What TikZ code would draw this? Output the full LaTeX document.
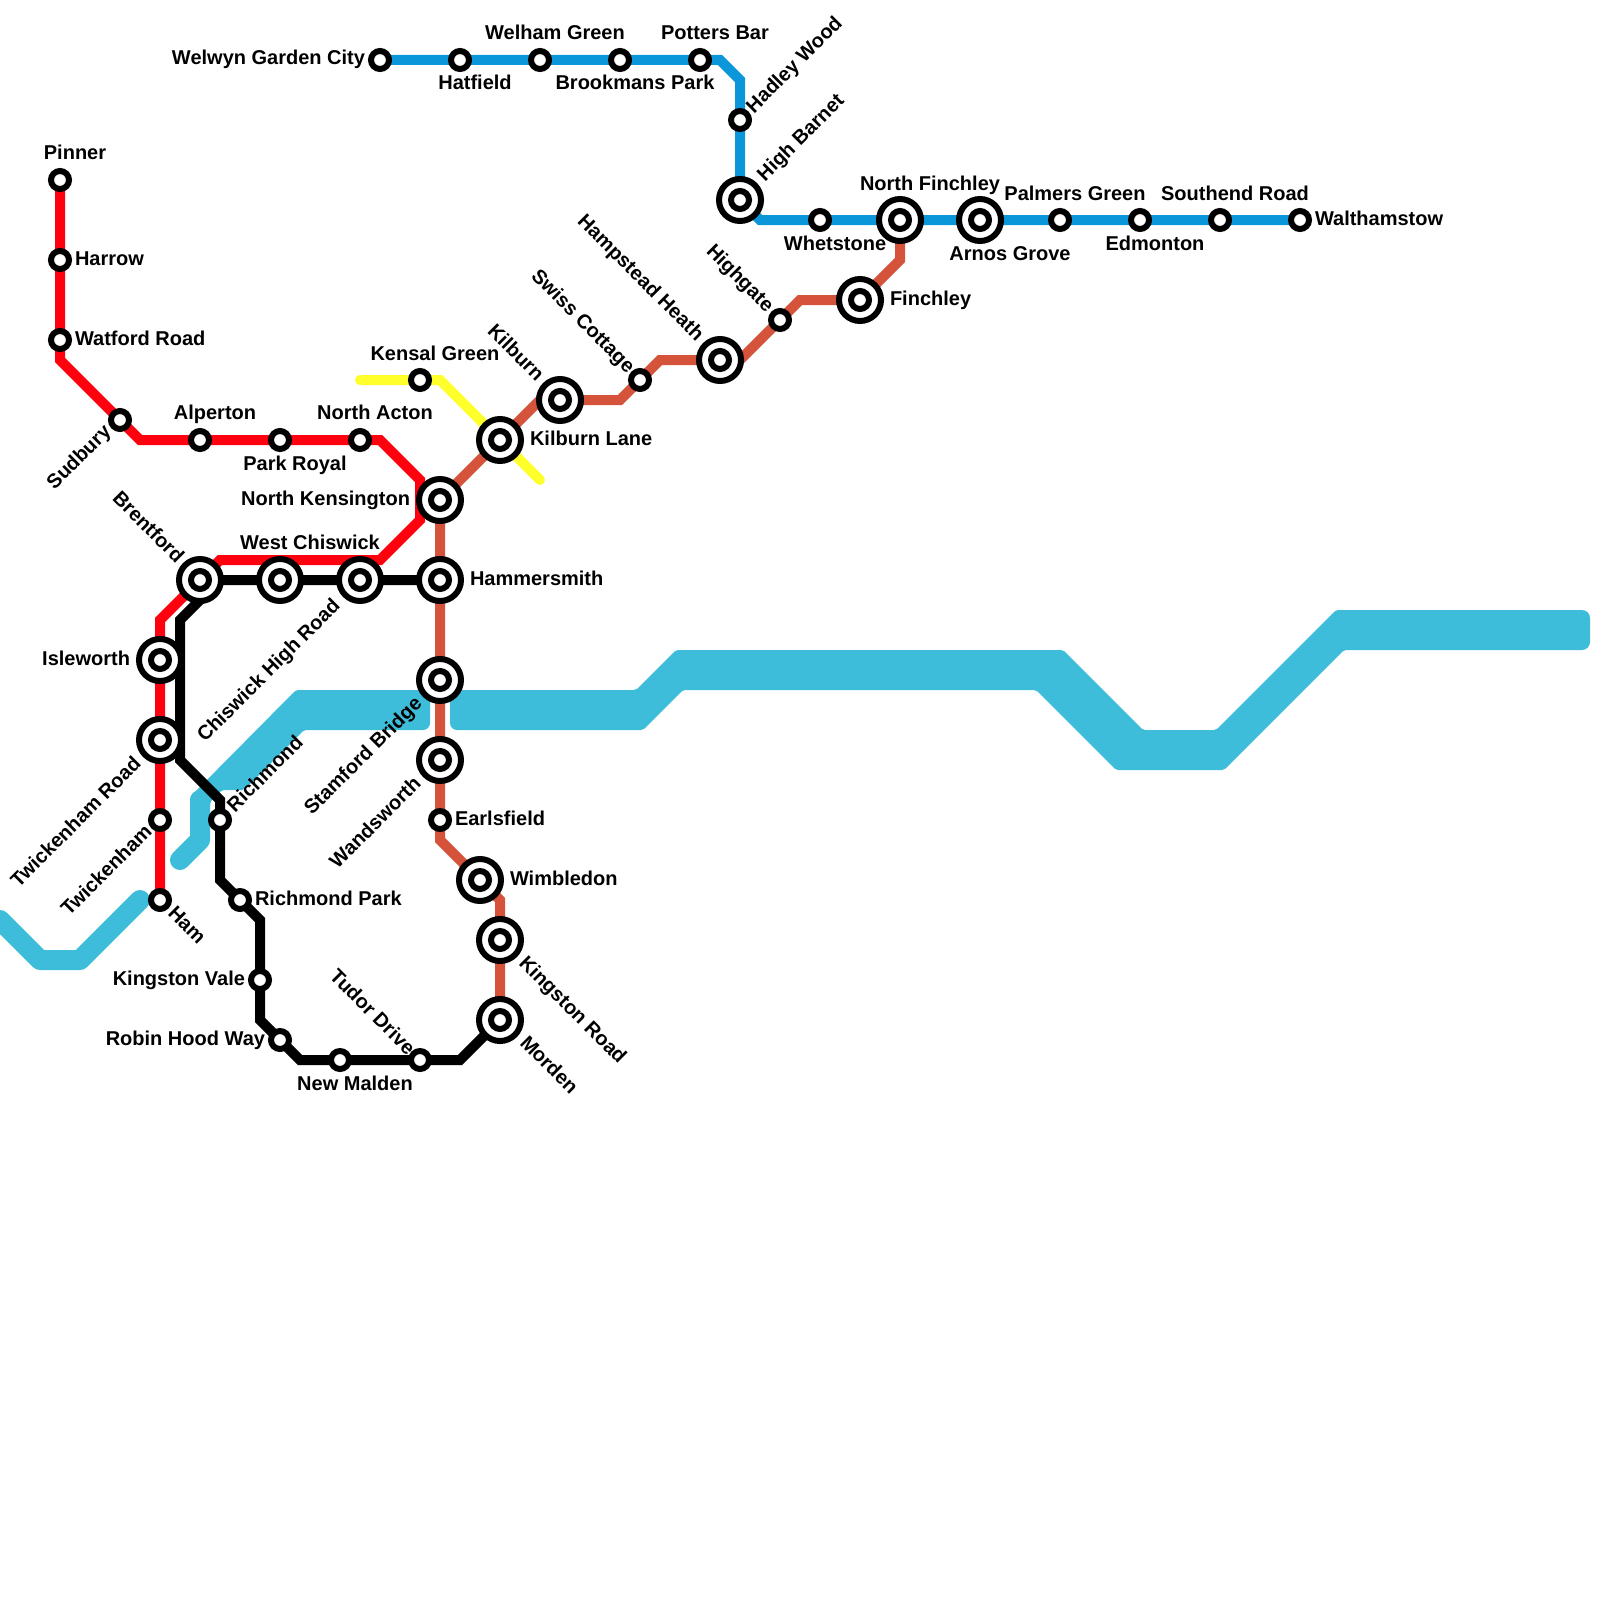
\documentclass[tikz,border=0pt]{standalone}
\usepackage{fontspec}
\setmainfont{Liberation Sans}
\pgfdeclarelayer{river}
\pgfdeclarelayer{lines}
\pgfsetlayers{river,lines,main}
\definecolor{riverblue}{HTML}{3DBDD9}
\definecolor{linered}{HTML}{FF000F}
\definecolor{lineblue}{HTML}{0C96DA}
\definecolor{lineorange}{HTML}{D6533B}
\definecolor{lineyellow}{HTML}{FFFF2B}
\tikzset{
  stsmall/.style={circle,draw=black,fill=white,line width=6pt,minimum size=18pt,inner sep=0pt,outer sep=0pt},
  stbig/.style={circle,draw=black,fill=white,line width=6pt,minimum size=42pt,inner sep=0pt,outer sep=0pt,label={[stsmall]center:{}}},
  metro/.style={line width=10pt,line join=miter},
  lab/.style={inner sep=0pt,outer sep=0pt,text=black,font=\fontsize{20}{24}\selectfont\bfseries},
  lr/.style={lab,anchor=base west},
  ll/.style={lab,anchor=base east},
  lc/.style={lab,anchor=base},
  upw/.style={lab,anchor=base west,rotate=45},
  upe/.style={lab,anchor=base east,rotate=45},
  dnw/.style={lab,anchor=base west,rotate=-45},
  dne/.style={lab,anchor=base east,rotate=-45},
  riverline/.style={line width=20pt,draw=riverblue,line cap=round,line join=round},
  riverfill/.style={fill=riverblue,rounded corners=2pt}
}
\begin{document}
\begin{tikzpicture}[x=1pt,y=-1pt]
\useasboundingbox (0,0) rectangle (1600,1600);
% stations
\node[stsmall] (pinner) at (60,180) {};
\node[stsmall] (harrow) at (60,260) {};
\node[stsmall] (watford) at (60,340) {};
\node[stsmall] (sudbury) at (120,420) {};
\node[stsmall] (alperton) at (200,440) {};
\node[stsmall] (parkroyal) at (280,440) {};
\node[stsmall] (northacton) at (360,440) {};
\node[stsmall] (kensal) at (420,380) {};
\node[stbig] (northken) at (440,500) {};
\node[stbig] (kilburnlane) at (500,440) {};
\node[stbig] (kilburn) at (560,400) {};
\node[stsmall] (swiss) at (640,380) {};
\node[stbig] (hampstead) at (720,360) {};
\node[stsmall] (highgate) at (780,320) {};
\node[stbig] (finchley) at (860,300) {};
\node[stbig] (northfinchley) at (900,220) {};
\node[stbig] (arnos) at (980,220) {};
\node[stsmall] (palmers) at (1060,220) {};
\node[stsmall] (edmonton) at (1140,220) {};
\node[stsmall] (southend) at (1220,220) {};
\node[stsmall] (walthamstow) at (1300,220) {};
\node[stsmall] (whetstone) at (820,220) {};
\node[stbig] (highbarnet) at (740,200) {};
\node[stsmall] (hadley) at (740,120) {};
\node[stsmall] (potters) at (700,60) {};
\node[stsmall] (brookmans) at (620,60) {};
\node[stsmall] (welham) at (540,60) {};
\node[stsmall] (hatfield) at (460,60) {};
\node[stsmall] (welwyn) at (380,60) {};
\node[stbig] (hammersmith) at (440,580) {};
\node[stbig] (stamford) at (440,680) {};
\node[stbig] (wandsworth) at (440,760) {};
\node[stsmall] (earlsfield) at (440,820) {};
\node[stbig] (wimbledon) at (480,880) {};
\node[stbig] (kingstonroad) at (500,940) {};
\node[stbig] (morden) at (500,1020) {};
\node[stsmall] (tudor) at (420,1060) {};
\node[stsmall] (newmalden) at (340,1060) {};
\node[stsmall] (robinhood) at (280,1040) {};
\node[stsmall] (kingstonvale) at (260,980) {};
\node[stsmall] (richmondpark) at (240,900) {};
\node[stsmall] (richmond) at (220,820) {};
\node[stbig] (twickroad) at (160,740) {};
\node[stbig] (isleworth) at (160,660) {};
\node[stbig] (brentford) at (200,580) {};
\node[stbig] (westchiswick) at (280,580) {};
\node[stbig] (chiswickhigh) at (360,580) {};
\node[stsmall] (twickenham) at (160,820) {};
\node[stsmall] (ham) at (160,900) {};
% bends
\coordinate (r1) at (60,360);
\coordinate (r2) at (140,440);
\coordinate (r3) at (380,440);
\coordinate (r4) at (420,480);
\coordinate (r5) at (420,520);
\coordinate (r6) at (380,560);
\coordinate (r7) at (220,560);
\coordinate (r8) at (160,620);
\coordinate (k1) at (200,600);
\coordinate (k2) at (180,620);
\coordinate (k3) at (180,760);
\coordinate (k4) at (220,800);
\coordinate (k5) at (220,880);
\coordinate (k6) at (260,920);
\coordinate (k7) at (260,1020);
\coordinate (k8) at (300,1060);
\coordinate (k9) at (460,1060);
\coordinate (b1) at (720,60);
\coordinate (b2) at (740,80);
\coordinate (b3) at (760,220);
\coordinate (o1) at (440,840);
\coordinate (o2) at (500,900);
\coordinate (o0) at (540,400);
\coordinate (o3) at (620,400);
\coordinate (o4) at (660,360);
\coordinate (o5) at (740,360);
\coordinate (o6) at (800,300);
\coordinate (o7) at (900,260);
\coordinate (y0) at (360,380);
\coordinate (y1) at (440,380);
\coordinate (y2) at (540,480);
\coordinate (w0) at (0,920);
\coordinate (w1) at (40,960);
\coordinate (w2) at (80,960);
\coordinate (w3) at (140,900);
\coordinate (w4) at (180,860);
\coordinate (w5) at (200,840);
\coordinate (w6) at (200,800);
\begin{pgfonlayer}{river}
\draw[riverline] (w0) -- (w1) -- (w2) -- (w3);
\draw[riverline] (w4) -- (w5) -- (w6);
\fill[riverfill] (190,808) -- (190,797) -- (296,690) -- (430,690) [rounded corners=7pt] -- (430,730) [rounded corners=2pt] -- (304,730) -- (244,790) -- (222,790) -- (210,802) -- (210,808) -- cycle;
\fill[riverfill] (450,690) -- (636,690) -- (676,650) -- (1063,650) -- (1143,730) -- (1216,730) -- (1336,610) [rounded corners=8pt] -- (1590,610) -- (1590,650) [rounded corners=2pt] -- (1344,650) -- (1224,770) -- (1116,770) -- (1036,690) -- (683,690) -- (643,730) [rounded corners=7pt] -- (450,730) -- cycle;
\end{pgfonlayer}
\begin{pgfonlayer}{lines}
\draw[metro,lineyellow,line cap=round] (y0) -- (kensal.center) -- (y1) -- (kilburnlane.center) -- (y2);
\draw[metro,linered] (pinner.center) -- (harrow.center) -- (watford.center) -- (r1) -- (sudbury.center) -- (r2) -- (alperton.center) -- (parkroyal.center) -- (northacton.center) -- (r3) -- (r4) -- (r5) -- (r6) -- (r7) -- (r8) -- (isleworth.center) -- (twickroad.center) -- (twickenham.center) -- (ham.center);
\draw[metro,lineorange] (morden.center) -- (kingstonroad.center) -- (o2) -- (wimbledon.center) -- (o1) -- (earlsfield.center) -- (wandsworth.center) -- (stamford.center) -- (hammersmith.center) -- (northken.center) -- (kilburnlane.center) -- (o0) -- (kilburn.center) -- (o3) -- (swiss.center) -- (o4) -- (hampstead.center) -- (o5) -- (highgate.center) -- (o6) -- (finchley.center) -- (o7) -- (northfinchley.center);
\draw[metro,lineblue] (welwyn.center) -- (hatfield.center) -- (welham.center) -- (brookmans.center) -- (potters.center) -- (b1) -- (b2) -- (hadley.center) -- (highbarnet.center) -- (b3) -- (whetstone.center) -- (northfinchley.center) -- (arnos.center) -- (palmers.center) -- (edmonton.center) -- (southend.center) -- (walthamstow.center);
\draw[metro,black] (hammersmith.center) -- (chiswickhigh.center) -- (westchiswick.center) -- (brentford.center) -- (k1) -- (k2) -- (k3) -- (k4) -- (richmond.center) -- (k5) -- (richmondpark.center) -- (k6) -- (kingstonvale.center) -- (k7) -- (robinhood.center) -- (k8) -- (newmalden.center) -- (tudor.center) -- (k9) -- (morden.center);
\end{pgfonlayer}
% labels
\node[lc] (l01) at (75,160) {Pinner};
\node[lr] (l02) at (75,265) {Harrow};
\node[lr] (l03) at (75,345) {Watford Road};
\node[upe] (l04) at (112,433) {Sudbury};
\node[lc] (l05) at (215,419.8) {Alperton};
\node[lc] (l06) at (295,470) {Park Royal};
\node[lc] (l07) at (375,419.8) {North Acton};
\node[lc] (l08) at (435,360) {Kensal Green};
\node[ll] (l09) at (410,505) {North Kensington};
\node[lr] (l10) at (530,445) {Kilburn Lane};
\node[dne] (l11) at (536,382) {Kilburn};
\node[dne] (l12) at (627,374) {Swiss Cottage};
\node[dne] (l13) at (696,342) {Hampstead Heath};
\node[dne] (l14) at (766,313) {Highgate};
\node[lr] (l15) at (890,305) {Finchley};
\node[lc] (l16) at (930,190) {North Finchley};
\node[lc] (l17) at (1010,260) {Arnos Grove};
\node[lc] (l18) at (1075,200) {Palmers Green};
\node[lc] (l19) at (1155,250) {Edmonton};
\node[lc] (l20) at (1235,200) {Southend Road};
\node[lr] (l21) at (1315,225) {Walthamstow};
\node[lc] (l22) at (835,250) {Whetstone};
\node[upw] (l23) at (765,182) {High Barnet};
\node[upw] (l24) at (754,114) {Hadley Wood};
\node[lc] (l25) at (715,39.8) {Potters Bar};
\node[lc] (l26) at (635,90) {Brookmans Park};
\node[lc] (l27) at (555,39.8) {Welham Green};
\node[lc] (l28) at (475,90) {Hatfield};
\node[ll] (l29) at (365,65) {Welwyn Garden City};
\node[lr] (l30) at (470,585) {Hammersmith};
\node[upe] (l31) at (423,705) {Stamford Bridge};
\node[upe] (l32) at (422,785) {Wandsworth};
\node[lr] (l33) at (455,825) {Earlsfield};
\node[lr] (l34) at (510,885) {Wimbledon};
\node[dnw] (l35) at (518,964) {Kingston Road};
\node[dnw] (l36) at (519,1044) {Morden};
\node[dne] (l37) at (407,1056) {Tudor Drive};
\node[lc] (l38) at (355,1090) {New Malden};
\node[ll] (l39) at (265,1045) {Robin Hood Way};
\node[ll] (l40) at (245,985) {Kingston Vale};
\node[lr] (l41) at (255,905) {Richmond Park};
\node[upw] (l42) at (235,813) {Richmond};
\node[upe] (l43) at (142,765) {Twickenham Road};
\node[ll] (l44) at (130,665) {Isleworth};
\node[dne] (l45) at (176,564) {Brentford};
\node[lc] (l46) at (310,549.8) {West Chiswick};
\node[upe] (l47) at (341,607) {Chiswick High Road};
\node[upe] (l48) at (153,833) {Twickenham};
\node[dnw] (l49) at (167,914) {Ham};
\end{tikzpicture}
\end{document}
